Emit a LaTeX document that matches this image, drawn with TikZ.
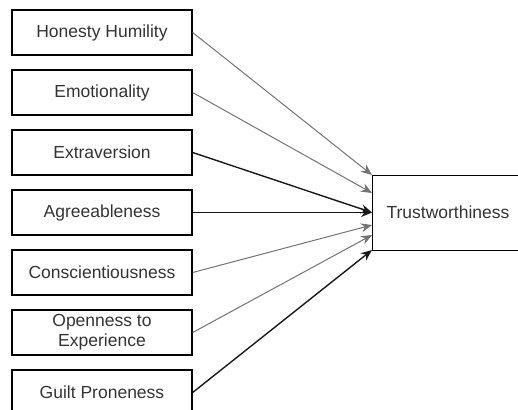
\documentclass[tikz,border=0pt]{standalone}
\usepackage{fontspec}
\setmainfont{Liberation Sans}
\usetikzlibrary{arrows.meta}
\begin{document}
\begin{tikzpicture}[x=1pt,y=-1pt,
  trait/.style={draw=black, line width=1.3pt, minimum width=180pt, minimum height=45pt,
    inner sep=0pt, text=black!80, font=\fontsize{17.5}{20}\selectfont, align=center, anchor=center},
  target/.style={draw=black, line width=1.3pt, minimum width=152pt, minimum height=75pt,
    inner sep=0pt, text=black!80, font=\fontsize{17.5}{20}\selectfont, anchor=north west},
  lightarrow/.style={draw=black!55, line width=1pt, -{Stealth[length=11pt,width=9pt]}, shorten >=0pt},
  darkarrow/.style={draw=black!90, line width=1.4pt, -{Stealth[length=11pt,width=9pt]}}
]
\useasboundingbox (0,0) rectangle (518,409);
\clip (0,0) rectangle (518,409);
\node[trait] (hh) at (102,32.5) {Honesty Humility};
\node[trait] (em) at (102,92.5) {Emotionality};
\node[trait] (ex) at (102,152.5) {Extraversion};
\node[trait] (ag) at (102,212.5) {Agreeableness};
\node[trait] (co) at (102,272.5) {Conscientiousness};
\node[trait] (op) at (102,332.5) {Openness to\\Experience};
\node[trait] (gp) at (102,392.5) {Guilt Proneness};
\node[target] (tw) at (372,175) {\hspace*{0pt}};
\node[text=black!80, font=\fontsize{17.5}{20}\selectfont] (twl) at (448,212.5) {Trustworthiness};
\coordinate (t1) at (372,175);
\coordinate (t2) at (372,193);
\coordinate (t3) at (372,212.5);
\coordinate (t5) at (372,225);
\coordinate (t6) at (372,235);
\coordinate (t7) at (372,250);
\draw[lightarrow] (hh.east) -- (t1);
\draw[lightarrow] (em.east) -- (t2);
\draw[darkarrow] (ex.east) -- (t3);
\draw[darkarrow] (ag.east) -- (t3);
\draw[lightarrow] (co.east) -- (t5);
\draw[lightarrow] (op.east) -- (t6);
\draw[darkarrow] (gp.east) -- (t7);
\end{tikzpicture}
\end{document}
